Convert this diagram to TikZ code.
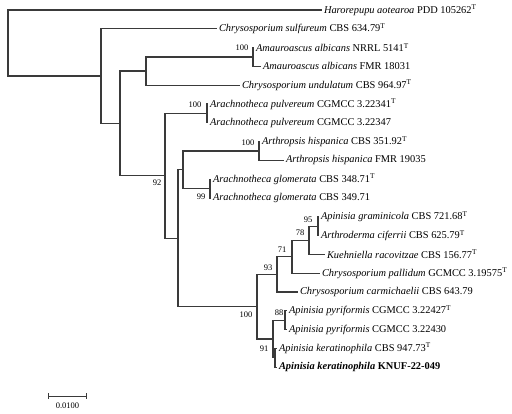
\documentclass[tikz,border=0pt]{standalone}
\usepackage{fontspec}
\setmainfont{Liberation Serif}
\usetikzlibrary{arrows.meta}
\definecolor{branch}{HTML}{3A3A3A}

\begin{document}
\begin{tikzpicture}[x=1pt,y=-1pt,
  leaf/.style={anchor=west,inner xsep=1.8pt,inner ysep=0pt,font=\fontsize{10.4}{12}\selectfont},
  boot/.style={inner sep=0pt,font=\fontsize{8.5}{10}\selectfont},
  br/.style={draw=branch,line width=1.3pt}]
  \useasboundingbox (0,0) rectangle (512,413);
  % leaves
  \node[leaf] (l1)  at (322,10)    {\textit{Harorepupu aotearoa} PDD 105262\textsuperscript{T}};
  \node[leaf] (l2)  at (217,28.8)  {\textit{Chrysosporium sulfureum} CBS 634.79\textsuperscript{T}};
  \node[leaf] (l3)  at (254,47.6)  {\textit{Amauroascus albicans} NRRL 5141\textsuperscript{T}};
  \node[leaf] (l4)  at (261,66.4)  {\textit{Amauroascus albicans} FMR 18031};
  \node[leaf] (l5)  at (240,85.2)  {\textit{Chrysosporium undulatum} CBS 964.97\textsuperscript{T}};
  \node[leaf] (l6)  at (208,104)   {\textit{Arachnotheca pulvereum} CGMCC 3.22341\textsuperscript{T}};
  \node[leaf] (l7)  at (208,122.8) {\textit{Arachnotheca pulvereum} CGMCC 3.22347};
  \node[leaf] (l8)  at (260,141.6) {\textit{Arthropsis hispanica} CBS 351.92\textsuperscript{T}};
  \node[leaf] (l9)  at (284,160.4) {\textit{Arthropsis hispanica} FMR 19035};
  \node[leaf] (l10) at (211,179.2) {\textit{Arachnotheca glomerata} CBS 348.71\textsuperscript{T}};
  \node[leaf] (l11) at (211,198)   {\textit{Arachnotheca glomerata} CBS 349.71};
  \node[leaf] (l12) at (319,216.8) {\textit{Apinisia graminicola} CBS 721.68\textsuperscript{T}};
  \node[leaf] (l13) at (319,235.6) {\textit{Arthroderma ciferrii} CBS 625.79\textsuperscript{T}};
  \node[leaf] (l14) at (325,254.4) {\textit{Kuehniella racovitzae} CBS 156.77\textsuperscript{T}};
  \node[leaf] (l15) at (320,273.2) {\textit{Chrysosporium pallidum} GCMCC 3.19575\textsuperscript{T}};
  \node[leaf] (l16) at (298,292)   {\textit{Chrysosporium carmichaelii} CBS 643.79};
  \node[leaf] (l17) at (287,310.8) {\textit{Apinisia pyriformis} CGMCC 3.22427\textsuperscript{T}};
  \node[leaf] (l18) at (287,329.6) {\textit{Apinisia pyriformis} CGMCC 3.22430};
  \node[leaf] (l19) at (277,348.4) {\textit{Apinisia keratinophila} CBS 947.73\textsuperscript{T}};
  \node[leaf] (l20) at (277,367.2) {\textbf{\textit{Apinisia keratinophila} KNUF-22-049}};
  % internal nodes
  \coordinate (root) at (8,43);
  \coordinate (nD)   at (101,76.1);
  \coordinate (nC)   at (120,123.5);
  \coordinate (nB)   at (146,71.1);
  \coordinate (nAa)  at (253,57);
  \coordinate (nE)   at (165,175.8);
  \coordinate (nPu)  at (207,113.4);
  \coordinate (nF)   at (178,238.3);
  \coordinate (nG)   at (183,169.8);
  \coordinate (nAr)  at (259,151);
  \coordinate (nGl)  at (210,188.6);
  \coordinate (nH)   at (257,306.7);
  \coordinate (nI)   at (277,274.4);
  \coordinate (nK)   at (292,256.8);
  \coordinate (nL)   at (309,240.3);
  \coordinate (nM)   at (318,226.2);
  \coordinate (nJ)   at (273,339);
  \coordinate (nN)   at (285,320.2);
  \coordinate (nO)   at (275,357.8);
  % branches
  \draw[br] (root) |- (l1.west);
  \draw[br] (root) |- (nD);
  \draw[br] (nD) |- (l2.west);
  \draw[br] (nD) |- (nC);
  \draw[br] (nC) |- (nB);
  \draw[br] (nC) |- (nE);
  \draw[br] (nB) |- (nAa);
  \draw[br] (nB) |- (l5.west);
  \draw[br] (nAa) |- (l3.west);
  \draw[br] (nAa) |- (l4.west);
  \draw[br] (nE) |- (nPu);
  \draw[br] (nE) |- (nF);
  \draw[br] (nPu) |- (l6.west);
  \draw[br] (nPu) |- (l7.west);
  \draw[br] (nF) |- (nG);
  \draw[br] (nF) |- (nH);
  \draw[br] (nG) |- (nAr);
  \draw[br] (nG) |- (nGl);
  \draw[br] (nAr) |- (l8.west);
  \draw[br] (nAr) |- (l9.west);
  \draw[br] (nGl) |- (l10.west);
  \draw[br] (nGl) |- (l11.west);
  \draw[br] (nH) |- (nI);
  \draw[br] (nH) |- (nJ);
  \draw[br] (nI) |- (nK);
  \draw[br] (nI) |- (l16.west);
  \draw[br] (nK) |- (nL);
  \draw[br] (nK) |- (l15.west);
  \draw[br] (nL) |- (nM);
  \draw[br] (nL) |- (l14.west);
  \draw[br] (nM) |- (l12.west);
  \draw[br] (nM) |- (l13.west);
  \draw[br] (nJ) |- (nN);
  \draw[br] (nJ) |- (nO);
  \draw[br] (nN) |- (l17.west);
  \draw[br] (nN) |- (l18.west);
  \draw[br] (nO) |- (l19.west);
  \draw[br] (nO) |- (l20.west);
  % bootstrap values
  \node[boot] (bAa) at (242,48)  {100};
  \node[boot] (bPu) at (195,105) {100};
  \node[boot] (bAr) at (248,143) {100};
  \node[boot] (bE)  at (157,183) {92};
  \node[boot] (bGl) at (201,197) {99};
  \node[boot] (bM)  at (308,220) {95};
  \node[boot] (bL)  at (300,233) {78};
  \node[boot] (bK)  at (282,250) {71};
  \node[boot] (bI)  at (268,268) {93};
  \node[boot] (bH)  at (246,315) {100};
  \node[boot] (bN)  at (279,313) {88};
  \node[boot] (bJ)  at (264,349) {91};
  % scale bar
  \coordinate (sbL) at (48,396);
  \coordinate (sbR) at (87,396);
  \draw[br,line width=1pt,{Bar[width=6pt]}-{Bar[width=6pt]}] (sbL) -- (sbR);
  \node[boot] (sbT) at (67.5,406) {0.0100};
\end{tikzpicture}
\end{document}
